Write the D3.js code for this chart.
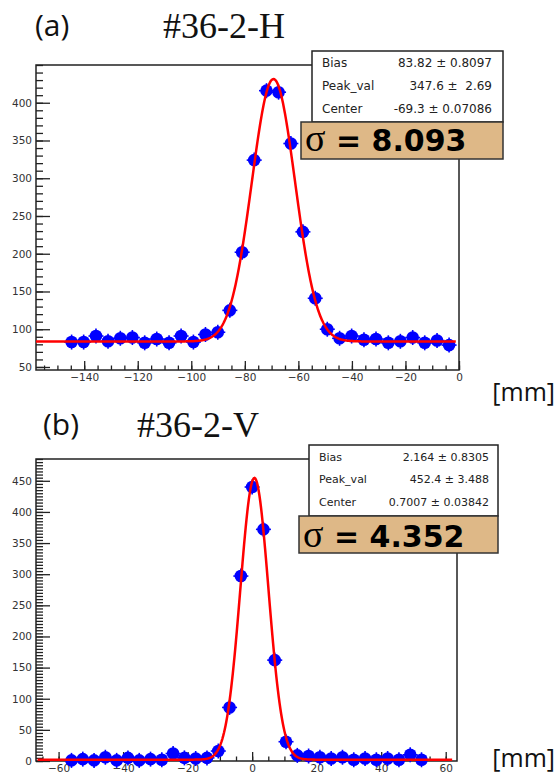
<!DOCTYPE html>
<html>
<head>
<meta charset="utf-8">
<script src="https://cdn.jsdelivr.net/npm/d3@7"></script>
<style>
  body { margin: 0; background: #fff; }
  svg { display: block; }
  text { white-space: pre; }
</style>
</head>
<body>
<script>
// panel (a) : #36-2-H, horizontal scan
var hPos = [-144.7, -140.2, -135.6, -131.1, -126.5, -122.0, -117.4, -112.9, -108.3, -103.8,
            -99.2, -94.7, -90.1, -85.6, -81.0, -76.5, -71.9, -67.4, -62.8, -58.3,
            -53.7, -49.2, -44.6, -40.1, -35.5, -31.0, -26.4, -21.9, -17.3, -12.8, -8.2, -3.7];
var hCounts = [83, 83, 91, 84, 88, 89, 82, 87, 82, 91,
               83, 93, 96, 125, 202, 324, 416, 414, 346, 229,
               141, 100, 88, 91, 86, 87, 82, 84, 89, 82, 85, 79];
var hFit = [83.82, 347.6, -69.3, 8.093]; // bias, peak, center, sigma
var hStatNames = ["Bias", "Peak_val", "Center"];
var hStatValues = ["83.82 \u00b1 0.8097", "347.6 \u00b1  2.69", "-69.3 \u00b1 0.07086"];
var hXTicks = [-140, -120, -100, -80, -60, -40, -20, 0];
var hYTicks = [50, 100, 150, 200, 250, 300, 350, 400];

// panel (b) : #36-2-V, vertical scan
var vPos = [-56, -52.5, -49, -45.5, -42, -38.5, -35, -31.5, -28, -24.5,
            -21, -17.5, -14, -10.5, -7, -3.5, 0, 3.5, 7, 10.5,
            14, 17.5, 21, 24.5, 28, 31.5, 35, 38.5, 42, 45.5, 49, 52.5];
var vCounts = [1, 3, 1, 6, 1, 5, 1, 3, 2, 12,
               5, 4, 5, 16, 86, 297, 440, 372, 162, 31,
               9, 8, 6, 4, 6, 2, 4, 2, 4, 2, 10, 2];
var vFit = [2.164, 452.4, 0.7007, 4.352];
var vStatNames = ["Bias", "Peak_val", "Center"];
var vStatValues = ["2.164 \u00b1 0.8305", "452.4 \u00b1 3.488", "0.7007 \u00b1 0.03842"];
var vXTicks = [-60, -40, -20, 0, 20, 40, 60];
var vYTicks = [0, 50, 100, 150, 200, 250, 300, 350, 400, 450];

var W = 559, H = 777;
var svg = d3.select("body").append("svg").attr("width", W).attr("height", H);

var panels = [
  {
    tag: "(a)", title: "#36-2-H", tagX: 35, tagY: 36, titleX: 163, titleY: 38,
    x: hPos, y: hCounts, fit: hFit, statNames: hStatNames, statValues: hStatValues,
    xTicks: hXTicks, yTicks: hYTicks,
    xDomain: [-158, 0], yDomain: [46, 450], xMinor: 5, yMinor: 10,
    fitRange: [-158, -1.2],
    frame: { left: 36, right: 459, top: 65, bottom: 370 },
    stats: { x0: 312, x1: 503, y0: 51, rows: [67, 89.5, 113], labelX: 322, valueX: 492, size: 12 },
    sigma: { x0: 301, y0: 122, y1: 159, textX: 305, base: 151 },
    unitY: 401
  },
  {
    tag: "(b)", title: "#36-2-V", tagX: 43, tagY: 435, titleX: 137, titleY: 437,
    x: vPos, y: vCounts, fit: vFit, statNames: vStatNames, statValues: vStatValues,
    xTicks: vXTicks, yTicks: vYTicks,
    xDomain: [-67, 63.5], yDomain: [0, 485], xMinor: 5, yMinor: 5,
    fitRange: [-66.5, 62],
    frame: { left: 36, right: 457, top: 459, bottom: 761 },
    stats: { x0: 309, x1: 498, y0: 445, rows: [461, 483, 506], labelX: 319, valueX: 489, size: 11 },
    sigma: { x0: 299, y0: 516, y1: 553, textX: 303, base: 547 },
    unitY: 767
  }
];

panels.forEach(drawPanel);

function drawPanel(p) {
  var f = p.frame;
  var x = d3.scaleLinear().domain(p.xDomain).range([f.left, f.right]);
  var y = d3.scaleLinear().domain(p.yDomain).range([f.bottom, f.top]);
  var g = svg.append("g");

  // headings
  g.append("text")
    .attr("x", p.tagX).attr("y", p.tagY)
    .style("font-family", "Open Sans").style("font-size", "30px").style("fill", "#111")
    .text(p.tag);
  g.append("text")
    .attr("x", p.titleX).attr("y", p.titleY)
    .style("font-family", "Liberation Serif").style("font-size", "36px").style("fill", "#111")
    .text(p.title);
  g.append("text")
    .attr("x", 555).attr("y", p.unitY)
    .attr("text-anchor", "end")
    .style("font-family", "Open Sans").style("font-size", "25px").style("fill", "#111")
    .text("[mm]");

  // minor ticks
  var xMinorTicks = d3.range(Math.ceil(p.xDomain[0] / p.xMinor) * p.xMinor, p.xDomain[1] + 0.01, p.xMinor);
  var yMinorTicks = d3.range(Math.ceil(p.yDomain[0] / p.yMinor) * p.yMinor, p.yDomain[1] + 0.01, p.yMinor);

  g.append("g")
    .attr("transform", "translate(0," + f.bottom + ")")
    .call(d3.axisBottom(x).tickValues(xMinorTicks).tickSize(-4.5).tickFormat(""));
  g.append("g")
    .attr("transform", "translate(" + f.left + ",0)")
    .call(d3.axisLeft(y).tickValues(yMinorTicks).tickSize(-7).tickFormat(""));

  // major ticks + labels
  var xAxis = g.append("g")
    .attr("transform", "translate(0," + f.bottom + ")")
    .call(d3.axisBottom(x).tickValues(p.xTicks).tickSize(-9).tickPadding(4));
  var yAxis = g.append("g")
    .attr("transform", "translate(" + f.left + ",0)")
    .call(d3.axisLeft(y).tickValues(p.yTicks).tickSize(-14).tickPadding(4));

  g.selectAll(".domain").remove();
  g.selectAll(".tick line").attr("stroke", "#222").attr("stroke-width", 1.3);
  [xAxis, yAxis].forEach(function (a) {
    a.selectAll("text")
      .style("font-family", "DejaVu Sans").style("font-size", "10.5px").style("fill", "#333");
  });

  // frame
  g.append("rect")
    .attr("x", f.left).attr("y", f.top)
    .attr("width", f.right - f.left).attr("height", f.bottom - f.top)
    .attr("fill", "none").attr("stroke", "#222").attr("stroke-width", 1.5);

  // data points with error crosses
  var pts = p.x.map(function (d, i) { return { x: d, y: p.y[i] }; });
  var marks = g.append("g").selectAll("g").data(pts).enter().append("g")
    .attr("transform", function (d) { return "translate(" + x(d.x) + "," + y(d.y) + ")"; });
  marks.append("line").attr("x1", -7.5).attr("x2", 7.5)
    .attr("stroke", "#0000ff").attr("stroke-width", 1.6);
  marks.append("line").attr("y1", -7.5).attr("y2", 7.5)
    .attr("stroke", "#0000ff").attr("stroke-width", 1.6);
  marks.append("circle").attr("r", 6.3).attr("fill", "#0000ff");

  // fitted gaussian + bias
  var fit = p.fit;
  var xs = d3.range(p.fitRange[0], p.fitRange[1], 0.25).concat([p.fitRange[1]]);
  var line = d3.line()
    .x(function (d) { return x(d); })
    .y(function (d) {
      var t = (d - fit[2]) / fit[3];
      return y(fit[0] + fit[1] * Math.exp(-0.5 * t * t));
    });
  g.append("path")
    .datum(xs)
    .attr("d", line)
    .attr("fill", "none").attr("stroke", "#ff0000").attr("stroke-width", 2.5);

  // stats box
  var s = p.stats;
  g.append("rect")
    .attr("x", s.x0).attr("y", s.y0)
    .attr("width", s.x1 - s.x0).attr("height", p.sigma.y0 - s.y0)
    .attr("fill", "#fff").attr("stroke", "#222").attr("stroke-width", 1.5);
  p.statNames.forEach(function (name, i) {
    g.append("text")
      .attr("x", s.labelX).attr("y", s.rows[i])
      .style("font-family", "DejaVu Sans").style("font-size", s.size + "px").style("fill", "#222")
      .text(name);
    g.append("text")
      .attr("x", s.valueX).attr("y", s.rows[i])
      .attr("text-anchor", "end")
      .style("font-family", "DejaVu Sans").style("font-size", s.size + "px").style("fill", "#222")
      .text(p.statValues[i]);
  });

  // sigma box
  var sg = p.sigma;
  g.append("rect")
    .attr("x", sg.x0).attr("y", sg.y0)
    .attr("width", s.x1 - sg.x0).attr("height", sg.y1 - sg.y0)
    .attr("fill", "#deb887").attr("stroke", "#333").attr("stroke-width", 1.5);
  var st = g.append("text")
    .attr("x", sg.textX).attr("y", sg.base)
    .style("fill", "#000");
  st.append("tspan")
    .style("font-family", "Liberation Serif").style("font-size", "38px")
    .text("\u03c3");
  st.append("tspan")
    .style("font-family", "DejaVu Sans").style("font-size", "30px").style("font-weight", "bold")
    .text(" = " + fit[3].toFixed(3));
}
</script>
</body>
</html>
